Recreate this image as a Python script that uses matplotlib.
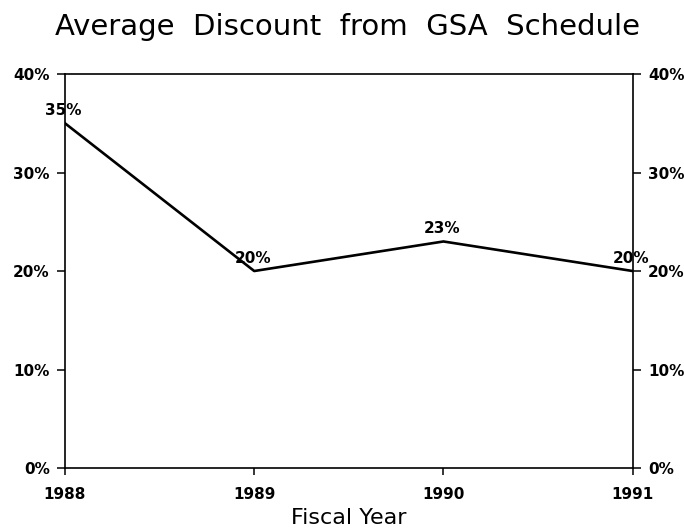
import matplotlib.pyplot as plt

years = [1988, 1989, 1990, 1991]
discount = [35, 20, 23, 20]
labels = ['35%', '20%', '23%', '20%']
yticks = [0, 10, 20, 30, 40]

plt.rcParams['font.family'] = ['DejaVu Sans']

fig = plt.figure(figsize=(6.84, 5.31), dpi=100)
ax = fig.add_axes([0.095, 0.1186, 0.830, 0.742])

ax.plot(years, discount, color='black', lw=1.9)
for x, y, t in zip(years, discount, labels):
    ax.annotate(t, (x, y), xytext=(-1, 6), textcoords='offset points',
                ha='center', va='baseline', fontsize=11, fontweight='bold')

ax.set_xlim(1988, 1991)
ax.set_ylim(0, 40)
ax.set_xticks(years)
ax.set_xticklabels([str(y) for y in years], fontsize=11, fontweight='bold')
ax.set_yticks(yticks)
ax.set_yticklabels([f'{v}%' for v in yticks], fontsize=11, fontweight='bold')
ax.tick_params(axis='y', direction='out', length=6, width=1.1, pad=5,
               left=True, right=True, labelleft=True, labelright=True)
ax.tick_params(axis='x', direction='out', length=5, width=1.1, pad=9)
for s in ax.spines.values():
    s.set_linewidth(1.2)

ax.set_xlabel('Fiscal Year', fontsize=16, labelpad=4)
fig.text(0.508, 0.934, 'Average  Discount  from  GSA  Schedule', ha='center',
         va='baseline', fontsize=21)

fig.savefig('out.png')
